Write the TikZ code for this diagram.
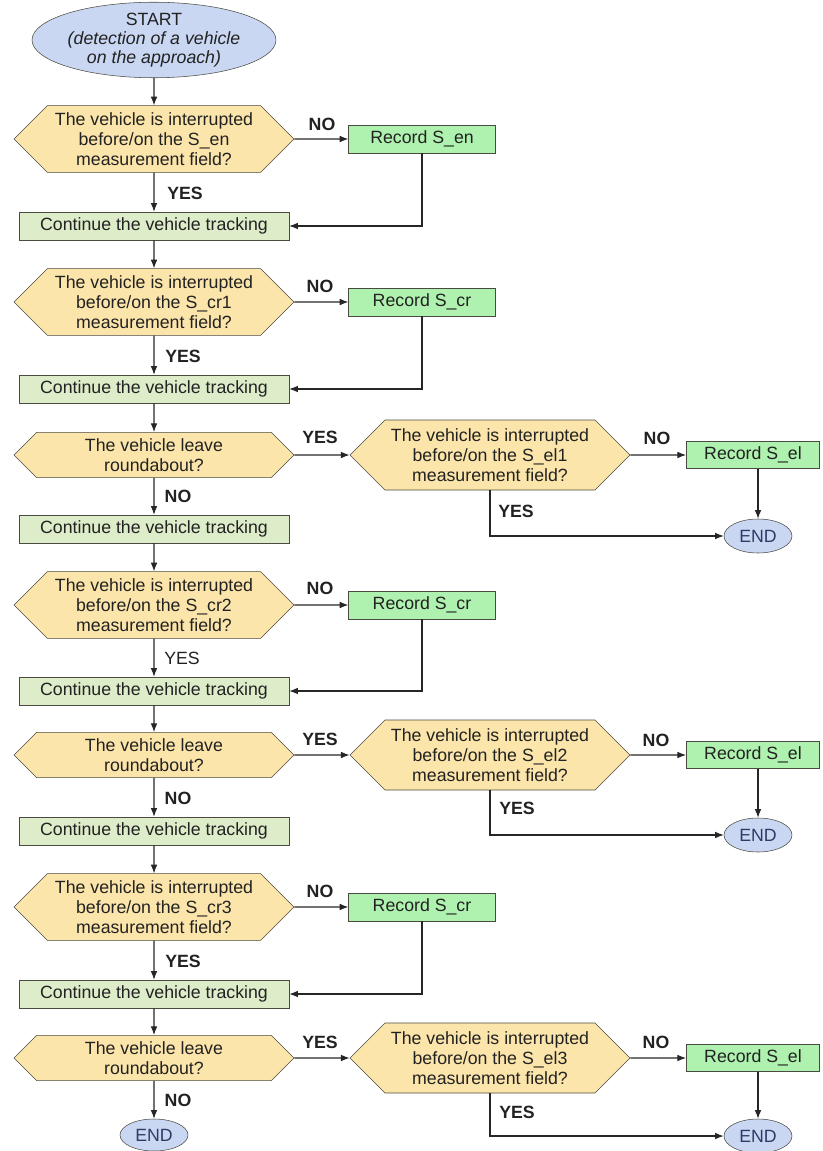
\documentclass[tikz,border=0pt]{standalone}
\usepackage{fontspec}
\setmainfont{Liberation Sans}
\usetikzlibrary{arrows,arrows.meta,shapes}
\definecolor{hexfill}{HTML}{FCE5AA}
\definecolor{recfill}{HTML}{AFF2AF}
\definecolor{contfill}{HTML}{DDECC9}
\definecolor{ovalfill}{HTML}{C9D7F2}
\definecolor{edgegray}{HTML}{4A4A40}
\definecolor{txt}{HTML}{222222}
\definecolor{endtxt}{HTML}{2F3A66}
\tikzset{
  every node/.style={font=\fontsize{13.3}{15}\selectfont, text=txt},
  decision/.style={shape=signal, signal to=west and east, signal pointer angle=90,
    draw=edgegray, fill=hexfill, align=center, inner sep=0pt,
    minimum width=210pt, minimum height=50pt},
  leave/.style={decision, minimum height=34pt},
  bigdecision/.style={decision, minimum height=52.5pt},
  record/.style={draw=edgegray, fill=recfill, minimum width=110pt, minimum height=21pt, inner sep=0pt},
  recordel/.style={record, minimum width=100pt, minimum height=20pt},
  tracking/.style={draw=edgegray, fill=contfill, minimum width=202.5pt, minimum height=21pt, inner sep=0pt},
  terminal/.style={ellipse, draw=edgegray, fill=ovalfill, inner sep=0pt, align=center},
  answer/.style={font=\bfseries\fontsize{13.3}{15}\selectfont},
  flow/.style={line width=0.8pt, draw=black!85, ->, >={Latex[length=6.5pt,width=5pt]}}
}
\begin{document}
\begin{tikzpicture}[x=0.75pt, y=-0.75pt]
\useasboundingbox (0,0) rectangle (822,1151);

%%% main column
\node[terminal, minimum width=153pt, minimum height=55.5pt] (st) at (154,40)
  {START\\[-1pt]\itshape (detection of a vehicle\\[-1pt]\itshape on the approach)}; % start
\node[decision] (q1) at (154,139) {The vehicle is interrupted\\before/on the S\_en\\measurement field?};
\node[record] (r1) at (422,139) {Record S\_en};
\node[tracking] (c1) at (154,226) {Continue the vehicle tracking};
\node[decision] (q2) at (154,302) {The vehicle is interrupted\\before/on the S\_cr1\\measurement field?};
\node[record] (r2) at (422,302) {Record S\_cr};
\node[tracking] (c2) at (154,389) {Continue the vehicle tracking};
\node[leave] (l1) at (154,455) {The vehicle leave\\roundabout?};
\node[tracking] (c3) at (154,529) {Continue the vehicle tracking};
\node[decision] (q3) at (154,605) {The vehicle is interrupted\\before/on the S\_cr2\\measurement field?};
\node[record] (r3) at (422,605) {Record S\_cr};
\node[tracking] (c4) at (154,691) {Continue the vehicle tracking};
\node[leave] (l2) at (154,755) {The vehicle leave\\roundabout?};
\node[tracking] (c5) at (154,831) {Continue the vehicle tracking};
\node[decision] (q4) at (154,907) {The vehicle is interrupted\\before/on the S\_cr3\\measurement field?};
\node[record] (r4) at (422,907) {Record S\_cr};
\node[tracking] (c6) at (154,994) {Continue the vehicle tracking};
\node[leave] (l3) at (154,1058) {The vehicle leave\\roundabout?};
\node[terminal, minimum width=51pt, minimum height=24pt, text=endtxt] (e0) at (154,1135) {END};

%%% exit branches
\node[bigdecision] (x1) at (490,455) {The vehicle is interrupted\\before/on the S\_el1\\measurement field?};
\node[recordel] (re1) at (753,455) {Record S\_el};
\node[terminal, minimum width=51pt, minimum height=25.5pt, text=endtxt] (e1) at (758,536) {END};
\node[bigdecision] (x2) at (490,755) {The vehicle is interrupted\\before/on the S\_el2\\measurement field?};
\node[recordel] (re2) at (753,755) {Record S\_el};
\node[terminal, minimum width=51pt, minimum height=25.5pt, text=endtxt] (e2) at (758,835) {END};
\node[bigdecision] (x3) at (490,1058) {The vehicle is interrupted\\before/on the S\_el3\\measurement field?};
\node[recordel] (re3) at (753,1058) {Record S\_el};
\node[terminal, minimum width=51pt, minimum height=25.5pt, text=endtxt] (e3) at (758,1136) {END};

%%% connectors
\draw[flow] (st) -- (q1);
\draw[flow] (q1) -- (r1);
\draw[flow] (q1) -- (c1);
\draw[flow] (r1.south) |- (c1.east);
\draw[flow] (c1) -- (q2);
\draw[flow] (q2) -- (r2);
\draw[flow] (q2) -- (c2);
\draw[flow] (r2.south) |- (c2.east);
\draw[flow] (c2) -- (l1);
\draw[flow] (l1) -- (x1);
\draw[flow] (x1) -- (re1);
\draw[flow] (re1.south -| e1) -- (e1);
\draw[flow] (x1.south) |- (e1.west);
\draw[flow] (l1) -- (c3);
\draw[flow] (c3) -- (q3);
\draw[flow] (q3) -- (r3);
\draw[flow] (q3) -- (c4);
\draw[flow] (r3.south) |- (c4.east);
\draw[flow] (c4) -- (l2);
\draw[flow] (l2) -- (x2);
\draw[flow] (x2) -- (re2);
\draw[flow] (re2.south -| e2) -- (e2);
\draw[flow] (x2.south) |- (e2.west);
\draw[flow] (l2) -- (c5);
\draw[flow] (c5) -- (q4);
\draw[flow] (q4) -- (r4);
\draw[flow] (q4) -- (c6);
\draw[flow] (r4.south) |- (c6.east);
\draw[flow] (c6) -- (l3);
\draw[flow] (l3) -- (x3);
\draw[flow] (x3) -- (re3);
\draw[flow] (re3.south -| e3) -- (e3);
\draw[flow] (x3.south) |- (e3.west);
\draw[flow] (l3) -- (e0);

%%% answer labels
\node[answer] (n1) at (322,124) {NO};
\node[answer] (y1) at (185,193) {YES};
\node[answer] (n2) at (320,286) {NO};
\node[answer] (y2) at (183,356) {YES};
\node[answer] (y3) at (320,437) {YES};
\node[answer] (n3) at (657,438) {NO};
\node[answer] (y4) at (516,511) {YES};
\node[answer] (n4) at (178,496) {NO};
\node[answer] (n5) at (320,588) {NO};
\node (y5) at (182,658) {YES};
\node[answer] (y6) at (320,739) {YES};
\node[answer] (n6) at (656,740) {NO};
\node[answer] (y7) at (517,808) {YES};
\node[answer] (n7) at (178,798) {NO};
\node[answer] (n8) at (320,891) {NO};
\node[answer] (y8) at (183,961) {YES};
\node[answer] (y9) at (320,1042) {YES};
\node[answer] (n9) at (656,1042) {NO};
\node[answer] (y10) at (517,1112) {YES};
\node[answer] (n10) at (178,1100) {NO};
\end{tikzpicture}
\end{document}
